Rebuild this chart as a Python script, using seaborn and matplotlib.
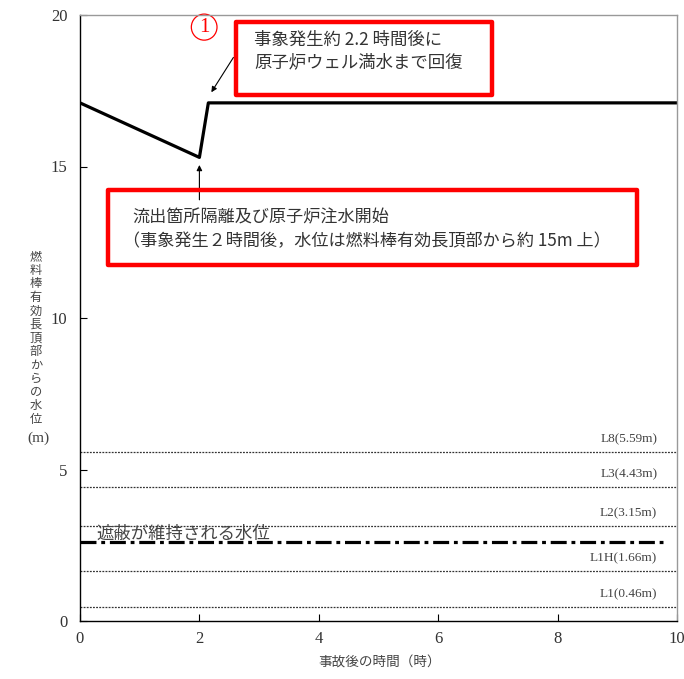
import matplotlib
matplotlib.use("Agg")
import matplotlib.pyplot as plt
import seaborn as sns
import pandas as pd
from matplotlib.patches import Rectangle, Ellipse

# ---- data ----
time_h = [0.0, 2.0, 2.15, 10.0]
water_level = [17.1, 15.3, 17.1, 17.1]
ref_labels = ["L8(5.59m)", "L3(4.43m)", "L2(3.15m)", "L1H(1.66m)", "L1(0.46m)"]
ref_levels = [5.59, 4.43, 3.15, 1.66, 0.46]
shield_level = 2.6
shield_label = "遮蔽が維持される水位"
x_ticks = [0, 2, 4, 6, 8, 10]
y_ticks = [0, 5, 10, 15, 20]
box1_lines = ["事象発生約 2.2 時間後に", "原子炉ウェル満水まで回復"]
box2_lines = ["流出箇所隔離及び原子炉注水開始", "（事象発生２時間後，水位は燃料棒有効長頂部から約 15m 上）"]
ylabel_text = "燃料棒有効長頂部からの水位"
xlabel_text = "事故後の時間（時）"

sns.set_theme(style="white")
plt.rcParams['font.family'] = ['Noto Sans CJK JP', 'DejaVu Sans']

W, H = 684, 679
fig = plt.figure(figsize=(W / 100, H / 100), dpi=100)
ax = fig.add_axes([80 / W, 1 - 621 / H, 597 / W, 606 / H])

df = pd.DataFrame({"time": time_h, "level": water_level})
sns.lineplot(data=df, x="time", y="level", color="black", lw=2.3, ax=ax)

for lab, lv in zip(ref_labels, ref_levels):
    ax.axhline(lv, color="#333333", lw=0.9, ls=(0, (1.5, 1.0)))
    ax.text(9.67, lv + 0.22, lab, ha="right", va="bottom", fontsize=9.5,
            family=["Liberation Serif"], color="#444444")

ax.axhline(shield_level, xmin=0, xmax=0.98, color="black", lw=2.3,
           ls=(0, (5, 1.5, 1.2, 1.5)))
ax.text(0.28, 2.87, shield_label, ha="left", va="center", fontsize=12.5, color="#444444")

ax.set_xlim(0, 10)
ax.set_ylim(0, 20)
ax.set_xticks(x_ticks)
ax.set_yticks(y_ticks)
ax.set_xticklabels([str(t) for t in x_ticks], family=["Liberation Serif"], fontsize=12, color="#333333")
ax.set_yticklabels([str(t) for t in y_ticks], family=["Liberation Serif"], fontsize=12, color="#333333")
ax.tick_params(axis="x", direction="in", length=5, width=0.8, color="black", pad=7, bottom=True)
ax.tick_params(axis="y", direction="in", length=5, width=0.8, color="black", pad=9, left=True)
ax.set_xlabel("")
ax.set_ylabel("")
for s in ["left", "bottom"]:
    ax.spines[s].set_color("black")
    ax.spines[s].set_linewidth(1.0)
for s in ["top", "right"]:
    ax.spines[s].set_color("#999999")
    ax.spines[s].set_linewidth(1.0)

# red annotation boxes
ax.add_patch(Rectangle((2.62, 17.36), 4.28, 2.41, fill=False, ec="#ff0000", lw=3.2,
                       joinstyle="round", clip_on=False, zorder=5))
ax.add_patch(Rectangle((0.47, 11.75), 8.86, 2.47, fill=False, ec="#ff0000", lw=3.2,
                       joinstyle="round", clip_on=False, zorder=5))

ax.text(2.92, 19.17, box1_lines[0], ha="left", va="center", fontsize=12.5, color="#333333")
ax.text(2.92, 18.45, box1_lines[1], ha="left", va="center", fontsize=12.5, color="#333333")
ax.text(0.88, 13.31, box2_lines[0], ha="left", va="center", fontsize=12.3, color="#333333")
ax.text(0.72, 12.52, box2_lines[1], ha="left", va="center", fontsize=12.3, color="#333333")

# circled number 1
ax.add_patch(Ellipse((2.08, 19.6), 0.43, 0.86, fill=False, ec="#ff0000", lw=0.9, clip_on=False))
ax.text(2.08, 19.58, "1", ha="center", va="center", fontsize=15,
        family=["Liberation Serif"], color="#ff0000")

ax.annotate("", xy=(2.2, 17.45), xytext=(2.57, 18.6),
            arrowprops=dict(arrowstyle="-|>", color="black", lw=0.8,
                            mutation_scale=8, shrinkA=0, shrinkB=0))
ax.annotate("", xy=(2.0, 15.05), xytext=(2.0, 13.9),
            arrowprops=dict(arrowstyle="-|>", color="black", lw=0.8,
                            mutation_scale=8, shrinkA=0, shrinkB=0))

# vertical stacked y label
fig.text(36 / W, 1 - 338 / H, "\n".join(ylabel_text), ha="center", va="center",
         fontsize=8.8, linespacing=1.05, color="#444444")
fig.text(38 / W, 1 - 438 / H, "(m)", ha="center", va="center", fontsize=11,
         family=["Liberation Serif"], color="#444444")
fig.text(380 / W, 1 - 663 / H, xlabel_text, ha="center", va="center",
         fontsize=9.8, color="#444444")

fig.savefig("out.png", dpi=100)
